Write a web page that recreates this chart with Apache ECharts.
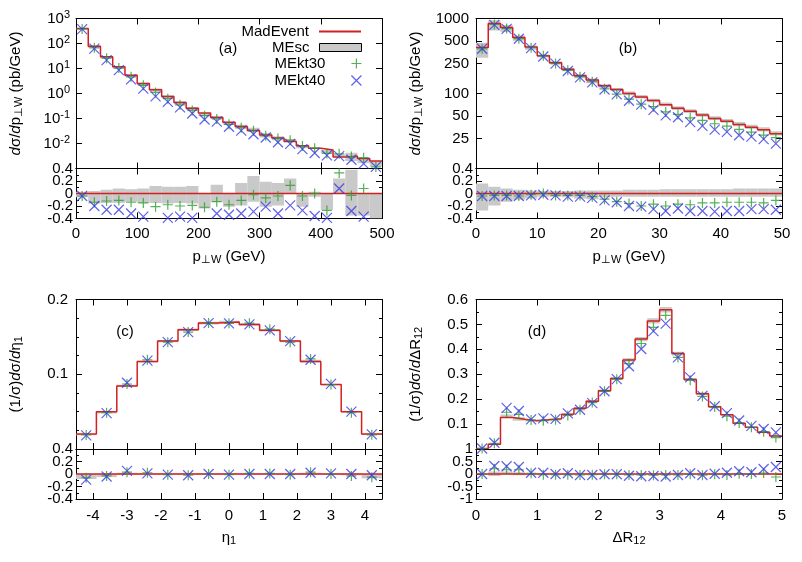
<!DOCTYPE html>
<html>
<head>
<meta charset="utf-8">
<script src="https://cdn.jsdelivr.net/npm/echarts@6/dist/echarts.min.js"></script>
<style>html,body{margin:0;background:#fff}#chart{width:802px;height:562px}</style>
</head>
<body>
<div id="chart"></div>
<script>
var FONT = 'Liberation Sans';
var RED = '#d21f1f', GREEN = '#2a9d2a', BLUE = '#3838e6', GRAY = '#c9c9c9';

/* (a) pT,W 0-500 GeV */
var ptEdgesA = [0, 20, 40, 60, 80, 100, 120, 140, 160, 180, 200, 220, 240, 260, 280, 300, 320, 340, 360, 380, 400, 420, 440, 460, 480, 500];
var madA = [394, 78, 29.4, 11.7, 5.4, 2.5, 1.4, 0.76, 0.44, 0.26, 0.166, 0.11, 0.071, 0.048, 0.033, 0.022, 0.0165, 0.012, 0.0082, 0.0065, 0.0055, 0.0029, 0.0031, 0.0025, 0.002];
var kt30A = [-0.04, -0.14, -0.12, -0.11, -0.14, -0.15, -0.21, -0.18, -0.2, -0.19, -0.22, -0.13, -0.18, -0.11, -0.02, -0.07, -0.04, 0.13, -0.04, 0, -0.27, 0.33, -0.03, 0.08, -0.42];
var kt40A = [-0.04, -0.2, -0.26, -0.26, -0.32, -0.37, -0.45, -0.39, -0.37, -0.39, -0.45, -0.32, -0.34, -0.32, -0.29, -0.21, -0.32, -0.19, -0.27, -0.36, -0.39, 0.08, -0.28, -0.37, -0.42];
var scLoA = [-0.06, -0.16, -0.15, -0.15, -0.13, -0.15, -0.15, -0.16, -0.15, -0.16, -0.24, -0.13, -0.21, -0.19, -0.13, -0.21, -0.19, 0, -0.21, -0.05, -0.26, 0, -0.35, -0.35, -0.4];
var scHiA = [0.03, 0.04, 0.06, 0.08, 0.07, 0.08, 0.12, 0.11, 0.11, 0.12, 0, 0.14, 0, 0.17, 0.28, 0.19, 0.17, 0.24, 0, 0.03, 0, 0.24, 0.38, 0, 0];
var logTicksA = [0.001, 0.01, 0.1, 1, 10, 100, 1000];
var logLabelsA = [0.01, 0.1, 1, 10, 100, 1000];

/* (b) pT,W 0-50 GeV */
var ptEdgesB = [0, 2, 4, 6, 8, 10, 12, 14, 16, 18, 20, 22, 24, 26, 28, 30, 32, 34, 36, 38, 40, 42, 44, 46, 48, 50];
var madB = [411, 857, 757, 560, 416, 318, 258, 210, 173, 151, 127, 113, 100, 90, 80.5, 71, 63.4, 57.8, 51.5, 46.5, 42.8, 38.6, 35.5, 32.8, 29];
var kt30B = [-0.04, -0.03, -0.03, -0.04, -0.02, 0, -0.03, -0.03, -0.03, -0.05, -0.09, -0.13, -0.16, -0.2, -0.17, -0.2, -0.17, -0.18, -0.15, -0.15, -0.14, -0.14, -0.14, -0.15, -0.11];
var kt40B = [-0.04, -0.04, -0.04, -0.04, -0.03, -0.02, -0.03, -0.05, -0.05, -0.07, -0.11, -0.14, -0.2, -0.21, -0.25, -0.28, -0.24, -0.28, -0.28, -0.29, -0.28, -0.28, -0.25, -0.25, -0.26];
var scLoB = [-0.27, -0.19, -0.13, -0.1, -0.08, -0.05, -0.05, -0.06, -0.08, -0.09, -0.06, -0.05, -0.05, -0.05, -0.05, -0.05, -0.05, -0.05, -0.05, -0.05, -0.05, -0.05, -0.05, -0.05, -0.05];
var scHiB = [0.16, 0.11, 0.08, 0.06, 0.05, 0.04, 0.04, 0.04, 0.05, 0.05, 0.05, 0.05, 0.06, 0.06, 0.06, 0.07, 0.07, 0.07, 0.07, 0.07, 0.07, 0.08, 0.08, 0.08, 0.08];
var logTicksB = [10, 25, 50, 100, 250, 500, 1000];
var logLabelsB = [25, 50, 100, 250, 500, 1000];

/* (c) eta_1 */
var etaEdges = [-4.5, -3.9, -3.3, -2.7, -2.1, -1.5, -0.9, -0.3, 0.3, 0.9, 1.5, 2.1, 2.7, 3.3, 3.9, 4.5];
var madC = [0.02, 0.05, 0.0844, 0.117, 0.1444, 0.1596, 0.1684, 0.1698, 0.1667, 0.1587, 0.1444, 0.117, 0.0862, 0.05, 0.02];
var kt30C = [-0.06, -0.03, 0.03, 0.02, -0.01, -0.02, 0, -0.01, 0.01, 0.01, -0.01, 0.03, 0, -0.03, -0.05];
var kt40C = [-0.09, -0.04, 0.05, 0.01, -0.01, -0.02, 0, -0.01, 0, 0, 0, 0.02, 0.01, 0, -0.02];
var scLoC = [-0.08, -0.05, -0.01, -0.01, -0.01, -0.01, -0.01, -0.01, -0.01, -0.01, -0.01, -0.01, -0.01, -0.02, -0.07];
var scHiC = [0, 0, 0.02, 0.01, 0.01, 0.01, 0.01, 0.01, 0.01, 0.01, 0.01, 0.02, 0.01, 0.01, 0];
var etaTicks = [-4, -3, -2, -1, 0, 1, 2, 3, 4];

/* (d) Delta R_12 */
var drEdges = [0, 0.2, 0.4, 0.6, 0.8, 1, 1.2, 1.4, 1.6, 1.8, 2, 2.2, 2.4, 2.6, 2.8, 3, 3.2, 3.4, 3.6, 3.8, 4, 4.2, 4.4, 4.6, 4.8, 5];
var madD = [0.002, 0.019, 0.126, 0.119, 0.113, 0.117, 0.121, 0.139, 0.164, 0.192, 0.234, 0.283, 0.357, 0.441, 0.514, 0.559, 0.383, 0.279, 0.222, 0.17, 0.137, 0.103, 0.087, 0.067, 0.052];
var kt30D = [0, 0.21, 0.17, 0.17, 0.03, -0.03, -0.03, -0.03, -0.04, -0.03, -0.01, -0.01, -0.04, -0.04, -0.05, -0.04, -0.04, -0.01, -0.05, -0.01, -0.04, 0.01, 0, 0.04, -0.12];
var kt40D = [0, 0.32, 0.31, 0.28, 0.05, 0.05, 0, 0.03, -0.04, -0.04, -0.01, -0.01, -0.07, -0.09, -0.08, -0.1, -0.04, 0.03, -0.04, 0.01, 0.05, 0.11, 0.07, 0.2, 0.28];
var scLoD = [0, -0.08, 0, -0.05, -0.02, -0.02, -0.02, -0.02, -0.02, -0.02, -0.02, -0.02, -0.02, -0.02, -0.02, -0.02, -0.02, -0.02, -0.02, -0.02, -0.02, -0.02, -0.02, -0.02, -0.02];
var scHiD = [0, 0.1, 0.1, 0.07, 0.02, 0.02, 0.02, 0.02, 0.02, 0.02, 0.02, 0.02, 0.02, 0.02, 0.02, 0.02, 0.02, 0.02, 0.02, 0.02, 0.02, 0.02, 0.02, 0.02, 0.02];

/* ratio panel tick labels, split in two sets so they don't get thinned out */
var ratioLabels = [-0.4, 0, 0.4];
var ratioLabels2 = [-0.2, 0.2];
var ratioLabelsD = [-1, 0, 1];
var ratioLabelsD2 = [-0.5, 0.5];

var RICH = {
    sup: {fontFamily: FONT, fontSize: 11, color: '#000', padding: [0, 0, 8, 0]},
    sub: {fontFamily: FONT, fontSize: 11, color: '#000', padding: [6, 0, 0, 0]},
    i: {fontFamily: FONT, fontSize: 15, color: '#000', fontStyle: 'italic'}
};
var MARK_PLUS = 'path://M5,0L5,10M0,5L10,5';
var MARK_CROSS = 'path://M0,0L10,10M10,0L0,10';

function pow10(v) {
    return '10{sup|' + Math.round(Math.log10(v)) + '}';
}
function plain(v) {
    return String(v);
}

var panels = [
    {label: '(a)', lx: 228, ly: 49, left: 76, top: 18.5, h: 150,
     edges: ptEdgesA, mad: madA, kt30: kt30A, kt40: kt40A, lo: scLoA, hi: scHiA,
     x: {min: 0, max: 500, interval: 100, margin: 8, name: 'p{sub|⊥W} (GeV)', nameGap: 30},
     y: {type: 'log', min: 0.001, max: 1000, ticks: logTicksA, labels: logLabelsA, formatter: pow10, margin: 6,
         name: '{i|d}σ/{i|d}p{sub|⊥W} (pb/GeV)', nameGap: 52, nameRotate: 90},
     r: {min: -0.4, max: 0.4, interval: 0.2, minor: 2, margin: 3, labels: ratioLabels, labels2: ratioLabels2, formatter: plain}},
    {label: '(b)', lx: 628, ly: 49, left: 476, top: 18.5, h: 150,
     edges: ptEdgesB, mad: madB, kt30: kt30B, kt40: kt40B, lo: scLoB, hi: scHiB,
     x: {min: 0, max: 50, interval: 10, margin: 8, name: 'p{sub|⊥W} (GeV)', nameGap: 30},
     y: {type: 'log', min: 10, max: 1000, ticks: logTicksB, labels: logLabelsB, formatter: plain, margin: 7,
         name: '{i|d}σ/{i|d}p{sub|⊥W} (pb/GeV)', nameGap: 52, nameRotate: 90},
     r: {min: -0.4, max: 0.4, interval: 0.2, minor: 2, margin: 3, labels: ratioLabels, labels2: ratioLabels2, formatter: plain}},
    {label: '(c)', lx: 125, ly: 332, left: 76, top: 299.5, h: 149.5,
     edges: etaEdges, mad: madC, kt30: kt30C, kt40: kt40C, lo: scLoC, hi: scHiC,
     x: {min: -4.5, max: 4.5, ticks: etaTicks, labels: etaTicks, margin: 9, name: 'η{sub|1}', nameGap: 30},
     y: {min: 0, max: 0.2, interval: 0.1, minor: 4, showMin: false, margin: 8,
         name: '(1/σ){i|d}σ/{i|d}η{sub|1}', nameGap: 52, nameRotate: 90},
     r: {min: -0.4, max: 0.4, interval: 0.2, minor: 2, margin: 3, labels: ratioLabels, labels2: ratioLabels2, formatter: plain}},
    {label: '(d)', lx: 537, ly: 332, left: 476, top: 299.5, h: 149.5,
     edges: drEdges, mad: madD, kt30: kt30D, kt40: kt40D, lo: scLoD, hi: scHiD,
     x: {min: 0, max: 5, interval: 1, margin: 9, name: 'ΔR{sub|12}', nameGap: 30},
     y: {min: 0, max: 0.6, interval: 0.1, minor: 2, showMin: false, margin: 8,
         name: '(1/σ){i|d}σ/{i|d}ΔR{sub|12}', nameGap: 52, nameRotate: 90},
     r: {min: -1, max: 1, interval: 0.5, minor: 2, margin: 3, labels: ratioLabelsD, labels2: ratioLabelsD2, formatter: plain}}
];

function makeAxis(g, pos, s, withLabels) {
    var ax = {
        gridIndex: g, position: pos, type: s.type || 'value', min: s.min, max: s.max,
        axisLine: {onZero: false, lineStyle: {color: '#000', width: 1}},
        axisTick: {inside: true, length: 6, lineStyle: {color: '#000', width: 1}},
        splitLine: {show: false},
        axisLabel: {show: withLabels, color: '#000', fontFamily: FONT, fontSize: 15,
            margin: s.margin, rich: RICH, hideOverlap: false}
    };
    if (s.type === 'log') ax.logBase = 10;
    if (s.interval) ax.interval = s.interval;
    if (s.minor) ax.minorTick = {show: true, splitNumber: s.minor, length: 3, lineStyle: {color: '#000', width: 1}};
    if (s.ticks) ax.axisTick.customValues = s.ticks;
    if (s.labels) {
        ax.axisLabel.customValues = s.labels;
        ax.axisLabel.showMinLabel = true;
        ax.axisLabel.showMaxLabel = true;
    }
    if (s.formatter) ax.axisLabel.formatter = s.formatter;
    if (s.showMin === false) ax.axisLabel.showMinLabel = false;
    if (withLabels && s.name) {
        ax.name = s.name;
        ax.nameLocation = 'middle';
        ax.nameGap = s.nameGap;
        ax.nameRotate = s.nameRotate || 0;
        ax.nameTextStyle = {color: '#000', fontFamily: FONT, fontSize: 15, rich: RICH};
    }
    return ax;
}

function bandItem(params, api) {
    var p0 = api.coord([api.value(0), api.value(3)]);
    var p1 = api.coord([api.value(1), api.value(2)]);
    return {type: 'rect', shape: {x: p0[0], y: p0[1], width: p1[0] - p0[0], height: p1[1] - p0[1]},
        style: {fill: GRAY}};
}

var grids = [], xAxes = [], yAxes = [], series = [], graphics = [];

panels.forEach(function (p) {
    var n = p.mad.length;
    var centers = [];
    for (var i = 0; i < n; i++) centers.push((p.edges[i] + p.edges[i + 1]) / 2);

    var gm = grids.length;
    grids.push({left: p.left, top: p.top, width: 306, height: p.h});
    var gr = grids.length;
    grids.push({left: p.left, top: p.top + p.h, width: 306, height: 50});

    var xm = xAxes.length;
    xAxes.push(makeAxis(gm, 'bottom', p.x, false), makeAxis(gm, 'top', p.x, false));
    var xr = xAxes.length;
    xAxes.push(makeAxis(gr, 'bottom', p.x, true), makeAxis(gr, 'top', p.x, false));
    var ym = yAxes.length;
    yAxes.push(makeAxis(gm, 'left', p.y, true), makeAxis(gm, 'right', p.y, false));
    var yr = yAxes.length;
    yAxes.push(makeAxis(gr, 'left', p.r, true), makeAxis(gr, 'right', p.r, false));
    // second label-only axis for the in-between ratio labels
    var extra = makeAxis(gr, 'left', {min: p.r.min, max: p.r.max, interval: p.r.interval, margin: p.r.margin,
        labels: p.r.labels2, formatter: plain}, true);
    extra.axisLine.show = false;
    extra.axisTick.show = false;
    yAxes.push(extra);

    var bandMain = [], bandRatio = [], stepMain = [], stepRatio = [];
    var m30 = [], m40 = [], r30 = [], r40 = [];
    for (var k = 0; k < n; k++) {
        bandMain.push([p.edges[k], p.edges[k + 1], p.mad[k] * (1 + p.lo[k]), p.mad[k] * (1 + p.hi[k])]);
        bandRatio.push([p.edges[k], p.edges[k + 1], p.lo[k], p.hi[k]]);
        m30.push([centers[k], p.mad[k] * (1 + p.kt30[k])]);
        m40.push([centers[k], p.mad[k] * (1 + p.kt40[k])]);
        r30.push([centers[k], p.kt30[k]]);
        r40.push([centers[k], p.kt40[k]]);
    }
    for (var e = 0; e <= n; e++) {
        var v = p.mad[Math.min(e, n - 1)];
        stepMain.push([p.edges[e], v]);
        stepRatio.push([p.edges[e], (v - v) / v]);
    }

    // main panel, then ratio panel
    [[xm, ym, bandMain, stepMain, m30, m40], [xr, yr, bandRatio, stepRatio, r30, r40]].forEach(function (s) {
        series.push({
            name: 'MEsc', type: 'custom', xAxisIndex: s[0], yAxisIndex: s[1], clip: true, z: 1,
            renderItem: bandItem, encode: {x: [0, 1], y: [2, 3]}, itemStyle: {color: GRAY}, data: s[2]
        });
        series.push({
            name: 'MadEvent', type: 'line', xAxisIndex: s[0], yAxisIndex: s[1], step: 'end', z: 3,
            symbol: 'none', lineStyle: {color: RED, width: 1.5}, itemStyle: {color: RED}, data: s[3]
        });
        series.push({
            name: 'MEkt30', type: 'scatter', xAxisIndex: s[0], yAxisIndex: s[1], z: 4,
            symbol: MARK_PLUS, symbolSize: 10, symbolKeepAspect: true,
            itemStyle: {color: 'transparent', borderColor: GREEN, borderWidth: 1.2}, data: s[4]
        });
        series.push({
            name: 'MEkt40', type: 'scatter', xAxisIndex: s[0], yAxisIndex: s[1], z: 5,
            symbol: MARK_CROSS, symbolSize: 10, symbolKeepAspect: true,
            itemStyle: {color: 'transparent', borderColor: BLUE, borderWidth: 1.2}, data: s[5]
        });
    });

    graphics.push({type: 'text', x: p.lx, y: p.ly, z: 10,
        style: {text: p.label, fontFamily: FONT, fontSize: 15, fill: '#000', align: 'center', verticalAlign: 'middle'}});
});

var legendRows = [
    {name: 'MadEvent', y: 33, h: 8, style: {opacity: 0}},
    {name: 'MEsc', y: 49, h: 8, icon: 'rect', style: {color: GRAY, borderColor: '#000', borderWidth: 1}},
    {name: 'MEkt30', y: 65, h: 10, style: {borderWidth: 1.2}},
    {name: 'MEkt40', y: 82, h: 10, style: {borderWidth: 1.2}}
];

var legends = legendRows.map(function (r) {
    var item = {name: r.name};
    if (r.icon) item.icon = r.icon;
    if (r.style) item.itemStyle = r.style;
    return {
        right: 440, top: r.y - 9, align: 'right', orient: 'horizontal', padding: 0,
        itemWidth: 42, itemHeight: r.h, selectedMode: false,
        textStyle: {fontFamily: FONT, fontSize: 15, color: '#000', padding: [0, 5, 0, 0]},
        data: [item]
    };
});

var chart = echarts.init(document.getElementById('chart'));
chart.setOption({
    animation: false,
    backgroundColor: '#fff',
    textStyle: {fontFamily: FONT},
    grid: grids,
    xAxis: xAxes,
    yAxis: yAxes,
    legend: legends,
    graphic: graphics,
    series: series
});
</script>
</body>
</html>
